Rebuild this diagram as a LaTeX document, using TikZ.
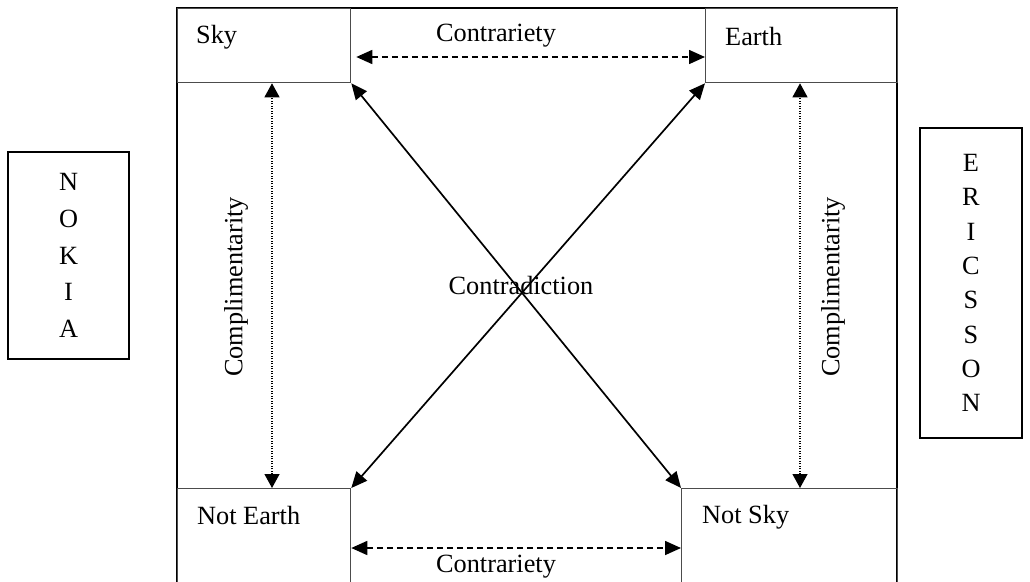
\documentclass[tikz,border=0pt]{standalone}
\usepackage{fontspec}
\setmainfont{Liberation Serif}
\usetikzlibrary{arrows.meta,calc}
\begin{document}
\begin{tikzpicture}[x=1pt,y=-1pt,
  lbl/.style={font=\fontsize{26.3}{31}\selectfont, inner sep=0pt},
  cellbox/.style={draw=black!70, line width=1.3pt, anchor=north west, inner sep=0pt},
  sidebox/.style={draw=black, line width=1.5pt, inner sep=0pt, align=center},
  frameline/.style={draw=black, line width=1.4pt},
  bitip/.style={{Triangle[length=16pt,width=14pt]}-{Triangle[length=16pt,width=14pt]}},
  smalltip/.style={{Triangle[length=14pt,width=15pt]}-{Triangle[length=14pt,width=15pt]}},
  diag/.style={bitip, line width=1.7pt},
  dasharrow/.style={bitip, line width=1.6pt, dash pattern=on 6pt off 4pt},
  dotarrow/.style={smalltip, line width=1.2pt, dash pattern=on 1.2pt off 1.3pt}
]
\useasboundingbox (0,0) rectangle (1030,581);
\fill[white] (0,0) rectangle (1030,581);

% outer frame
\draw[frameline] (177,590) -- (177,8) -- (897,8) -- (897,590);

% corner boxes
\node[cellbox, minimum width=173pt, minimum height=74pt] (sky) at (177,8) {};
\node[cellbox, minimum width=192pt, minimum height=74pt] (earth) at (705,8) {};
\node[cellbox, minimum width=173pt, minimum height=110pt] (notearth) at (177,488) {};
\node[cellbox, minimum width=216pt, minimum height=110pt] (notsky) at (681,488) {};

% box labels
\node[lbl, anchor=base west] (skyl) at (196,43) {Sky};
\node[lbl, anchor=base west] (earthl) at (725,45) {Earth};
\node[lbl, anchor=base west] (notearthl) at (197,524) {Not Earth};
\node[lbl, anchor=base west] (notskyl) at (702,523) {Not Sky};

% contrariety
\node[lbl, anchor=base] (ctop) at (496,41) {Contrariety};
\coordinate (ta) at (sky.east |- 0,57);
\coordinate (tb) at (earth.west |- 0,57);
\draw[dasharrow] ([xshift=5pt]ta) -- (tb);
\node[lbl, anchor=base] (cbot) at (496,572) {Contrariety};
\coordinate (ba) at (notearth.east |- 0,548);
\coordinate (bb) at (notsky.west |- 0,548);
\draw[dasharrow] (ba) -- (bb);

% contradiction
\draw[diag] (sky.south east) -- (notsky.north west);
\draw[diag] (earth.south west) -- (notearth.north east);
\node[lbl] (contra) at (521,285) {Contradiction};

% complimentarity
\coordinate (la) at (272,0 |- sky.south);
\coordinate (lb) at (272,0 |- notearth.north);
\draw[dotarrow] (lb) -- (la);
\node[lbl, rotate=90] (compl) at (236,287) {Complimentarity};
\coordinate (ra) at (800,0 |- earth.south);
\coordinate (rb) at (800,0 |- notsky.north);
\draw[dotarrow] (rb) -- (ra);
\node[lbl, rotate=90] (compr) at (833,287) {Complimentarity};

% side boxes
\node[sidebox, minimum width=121pt, minimum height=207pt,
  font=\fontsize{26.3}{36.75}\selectfont] (nokia) at (68.5,255.5) {N\\O\\K\\I\\A};
\node[sidebox, minimum width=102pt, minimum height=310pt,
  font=\fontsize{26.3}{34.3}\selectfont] (ericsson) at (971,283) {E\\R\\I\\C\\S\\S\\O\\N};
\end{tikzpicture}
\end{document}
